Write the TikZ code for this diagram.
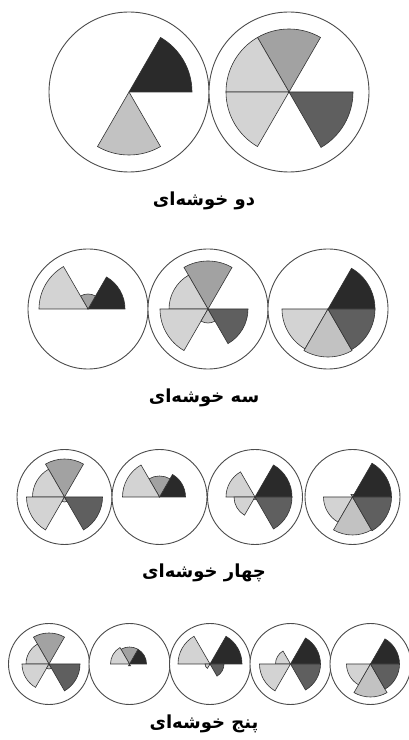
\documentclass[tikz,border=0pt]{standalone}
\usepackage{fontspec}
\newfontfamily\farsi[Script=Arabic]{DejaVu Sans}
\TeXXeTstate=1
\definecolor{petal0}{HTML}{2A2A2A}
\definecolor{petal1}{HTML}{A2A2A2}
\definecolor{petal2}{HTML}{D3D3D3}
\definecolor{petal3}{HTML}{D3D3D3}
\definecolor{petal4}{HTML}{C2C2C2}
\definecolor{petal5}{HTML}{5F5F5F}
\tikzset{
  ring/.style={draw=black!70, line width=0.9pt, fill=white},
  petal/.style={draw=black!80, line width=0.6pt},
  caption/.style={font=\farsi\bfseries\fontsize{18}{22}\selectfont, inner sep=0pt}
}
\newcommand{\rosechart}[3]{%
  \draw[ring] (#1) circle[radius=#2];
  \foreach \rad [count=\k from 0] in {#3} {
    \ifdim\rad pt>0pt
      \draw[petal, fill=petal\k] (#1) -- ++(60*\k:\rad)
        arc[start angle=60*\k, end angle=60*\k+60, radius=\rad] -- cycle;
    \fi
  }%
}

\begin{document}
\begin{tikzpicture}[x=1pt, y=1pt]
  \useasboundingbox (0,0) rectangle (409,740);

  \rosechart{129,648}{80}{63,0,0,0,63,0}
  \rosechart{289,648}{80}{0,63,63,63,0,64}
  \node[caption] (two) at (204,740-201) {\beginR دو خوشه‌ای\endR};

  \rosechart{88,431}{60}{37,15,49,0,0,0}
  \rosechart{208,431}{60}{0,48,39,48,14,40}
  \rosechart{328,431}{60}{47,0,0,46,48,47}
  \node[caption] (three) at (204,740-398) {\beginR سه خوشه‌ای\endR};

  \rosechart{64.5,243}{47.5}{0,38,32,38,5,38}
  \rosechart{159.5,243}{47.5}{26,21,37,0,0,0}
  \rosechart{255,243}{47.5}{37,0,29,21,3,37}
  \rosechart{352.5,243}{47.5}{39,3,0,29,38,39}
  \node[caption] (four) at (204,740-573) {\beginR چهار خوشه‌ای\endR};

  \rosechart{49,76}{40.5}{0,31,23,27,5,31}
  \rosechart{129.5,76}{40.5}{17,17,19,0,2,0}
  \rosechart{210,76}{40.5}{32,0,32,5,0,14}
  \rosechart{290.5,76}{40.5}{30,0,15,31,0,30}
  \rosechart{370.5,76}{40.5}{29,0,0,24,33,29}
  \node[caption] (five) at (204,740-724) {\beginR پنج خوشه‌ای\endR};
\end{tikzpicture}
\end{document}
